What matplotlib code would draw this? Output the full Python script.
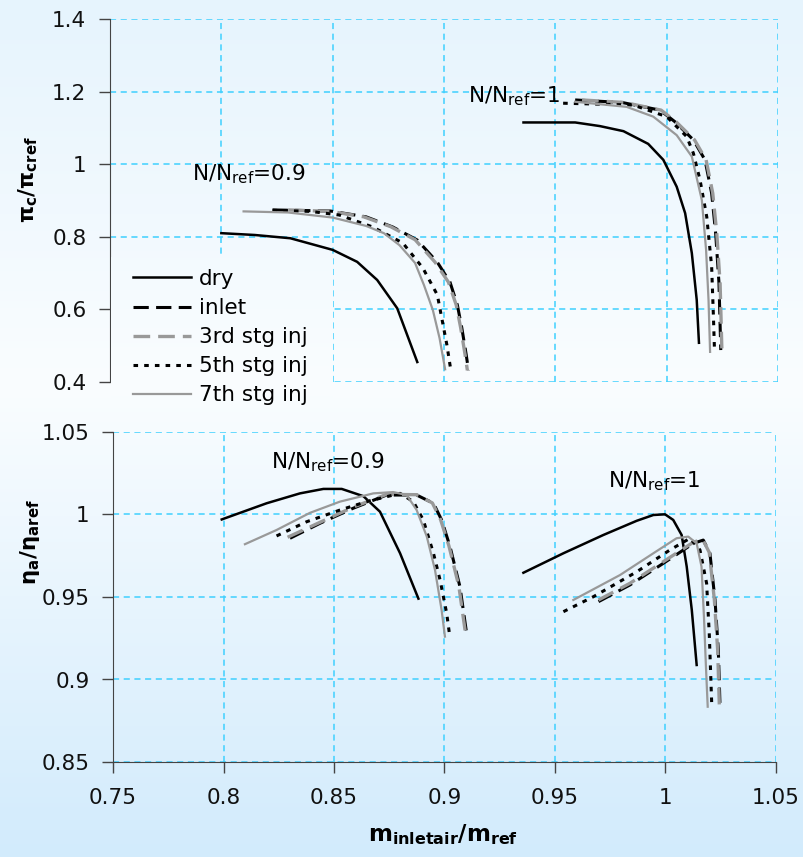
import numpy as np
import matplotlib
matplotlib.use("Agg")
import matplotlib.pyplot as plt
from matplotlib.ticker import FuncFormatter

# ---------------- data ----------------
cases = ["dry", "inlet", "3rd stg inj", "5th stg inj", "7th stg inj"]

# pressure ratio, N/Nref = 0.9
pr09_dry_x = [0.800, 0.815, 0.831, 0.850, 0.861, 0.870, 0.879, 0.888]
pr09_dry_y = [0.810, 0.805, 0.796, 0.764, 0.731, 0.681, 0.603, 0.455]
pr09_inlet_x = [0.823, 0.849, 0.865, 0.877, 0.888, 0.897, 0.9027, 0.906, 0.908, 0.910, 0.911]
pr09_inlet_y = [0.874, 0.871, 0.855, 0.827, 0.791, 0.730, 0.675, 0.612, 0.549, 0.474, 0.432]
pr09_3rd_x = [0.830, 0.849, 0.864, 0.876, 0.887, 0.896, 0.902, 0.9055, 0.9075, 0.9095, 0.9105]
pr09_3rd_y = [0.874, 0.870, 0.855, 0.828, 0.792, 0.730, 0.675, 0.612, 0.549, 0.474, 0.432]
pr09_5th_x = [0.823, 0.840, 0.853, 0.868, 0.8815, 0.8905, 0.897, 0.899, 0.9013, 0.903]
pr09_5th_y = [0.873, 0.870, 0.860, 0.827, 0.783, 0.714, 0.640, 0.576, 0.502, 0.435]
pr09_7th_x = [0.810, 0.830, 0.850, 0.865, 0.873, 0.880, 0.887, 0.891, 0.895, 0.898, 0.9005]
pr09_7th_y = [0.870, 0.867, 0.853, 0.830, 0.810, 0.777, 0.728, 0.667, 0.598, 0.521, 0.435]

# pressure ratio, N/Nref = 1
pr10_dry_x = [0.9357, 0.9589, 0.970, 0.9806, 0.9917, 0.9985, 1.0045, 1.0083, 1.0113, 1.0135, 1.0145]
pr10_dry_y = [1.115, 1.115, 1.105, 1.091, 1.056, 1.012, 0.938, 0.865, 0.755, 0.626, 0.508]
pr10_inlet_x = [0.9589, 0.980, 0.997, 1.0037, 1.012, 1.0172, 1.0202, 1.022, 1.0235, 1.0243]
pr10_inlet_y = [1.177, 1.170, 1.149, 1.117, 1.067, 1.012, 0.920, 0.810, 0.672, 0.488]
pr10_3rd_x = [0.962, 0.981, 0.9975, 1.0042, 1.0125, 1.0177, 1.0207, 1.0225, 1.024, 1.0248]
pr10_3rd_y = [1.177, 1.170, 1.149, 1.117, 1.067, 1.012, 0.920, 0.810, 0.672, 0.488]
pr10_5th_x = [0.9535, 0.985, 1.000, 1.009, 1.012, 1.015, 1.018, 1.0202, 1.021, 1.0215]
pr10_5th_y = [1.168, 1.163, 1.131, 1.076, 1.030, 0.956, 0.855, 0.718, 0.580, 0.483]
pr10_7th_x = [0.9589, 0.982, 0.994, 1.0045, 1.0113, 1.0158, 1.0177, 1.0188, 1.0195]
pr10_7th_y = [1.172, 1.158, 1.131, 1.080, 1.021, 0.901, 0.764, 0.626, 0.483]

# efficiency, N/Nref = 0.9
ef09_dry_x = [0.7992, 0.8195, 0.8346, 0.8452, 0.8535, 0.8633, 0.8708, 0.8799, 0.8882]
ef09_dry_y = [0.997, 1.0068, 1.0128, 1.0155, 1.0155, 1.0111, 1.0017, 0.9765, 0.949]
ef09_inlet_x = [0.8301, 0.8437, 0.8587, 0.8738, 0.8874, 0.895, 0.8987, 0.9025, 0.907, 0.910]
ef09_inlet_y = [0.9856, 0.9947, 1.0038, 1.0118, 1.0118, 1.0068, 0.9967, 0.9805, 0.9562, 0.928]
ef09_3rd_x = [0.829, 0.8437, 0.8587, 0.8738, 0.8874, 0.8945, 0.8982, 0.902, 0.9065, 0.9095]
ef09_3rd_y = [0.9862, 0.9953, 1.0045, 1.0122, 1.012, 1.007, 0.997, 0.981, 0.9565, 0.928]
ef09_5th_x = [0.824, 0.8376, 0.8527, 0.8648, 0.8799, 0.8859, 0.8904, 0.895, 0.898, 0.901, 0.9022]
ef09_5th_y = [0.987, 0.9956, 1.0027, 1.0078, 1.0128, 1.0078, 0.9967, 0.9765, 0.9603, 0.940, 0.928]
ef09_7th_x = [0.8097, 0.824, 0.8391, 0.8527, 0.8678, 0.8768, 0.8829, 0.8874, 0.892, 0.8957, 0.8987, 0.9002]
ef09_7th_y = [0.982, 0.9906, 1.001, 1.0078, 1.0128, 1.0136, 1.0118, 1.0027, 0.9866, 0.9664, 0.942, 0.926]

# efficiency, N/Nref = 1
ef10_dry_x = [0.9357, 0.9538, 0.9719, 0.987, 0.9945, 0.9998, 1.0035, 1.0073, 1.0096, 1.0119, 1.0141]
ef10_dry_y = [0.9647, 0.9765, 0.9876, 0.9962, 0.9997, 1.0001, 0.9967, 0.9876, 0.9684, 0.9421, 0.9088]
ef10_inlet_x = [0.9697, 0.9839, 0.999, 1.0126, 1.0171, 1.0201, 1.0224, 1.0239, 1.0247]
ef10_inlet_y = [0.9472, 0.9573, 0.9704, 0.9825, 0.9845, 0.9765, 0.9482, 0.9179, 0.8826]
ef10_3rd_x = [0.9697, 0.9839, 0.999, 1.0126, 1.0168, 1.0198, 1.0221, 1.0236, 1.0244]
ef10_3rd_y = [0.9482, 0.9583, 0.9714, 0.9832, 0.9850, 0.9770, 0.9485, 0.918, 0.8826]
ef10_5th_x = [0.9538, 0.9674, 0.987, 1.002, 1.0111, 1.0156, 1.0186, 1.0198, 1.0209]
ef10_5th_y = [0.9411, 0.9502, 0.9653, 0.9785, 0.9856, 0.9785, 0.9583, 0.928, 0.8856]
ef10_7th_x = [0.9583, 0.9794, 0.9945, 1.005, 1.0103, 1.0141, 1.0163, 1.0174, 1.0183, 1.0191]
ef10_7th_y = [0.9482, 0.9633, 0.9765, 0.9856, 0.9866, 0.9825, 0.9684, 0.938, 0.9078, 0.8835]

x_ticks = [0.75, 0.8, 0.85, 0.9, 0.95, 1.0, 1.05]
pr_ticks = [0.4, 0.6, 0.8, 1.0, 1.2, 1.4]
ef_ticks = [0.85, 0.9, 0.95, 1.0, 1.05]

# ---------------- styles ----------------
styles = {
    "dry": dict(color="black", lw=1.8, ls="-"),
    "inlet": dict(color="black", lw=2.2, ls=(0, (5, 2.4))),
    "3rd stg inj": dict(color="#999999", lw=2.4, ls=(0, (5, 2.4))),
    "5th stg inj": dict(color="black", lw=2.2, ls=(0, (1.5, 2.0))),
    "7th stg inj": dict(color="#999999", lw=1.6, ls="-"),
}
grid_color = "#3fd0ff"
FS = 15.5
W, H = 804, 857

fig = plt.figure(figsize=(8.04, 8.57), dpi=100)

# background gradient (top -> bottom)
g_stops = [0.0, 0.45, 1.0]
g_r = [230, 250, 210]
g_g = [244, 253, 235]
g_b = [253, 255, 252]


def gradient(t0, t1, n=256):
    t = np.linspace(t0, t1, n)
    rgb = [np.interp(t, g_stops, c) / 255 for c in (g_r, g_g, g_b)]
    return np.stack(rgb, axis=1)[:, None, :]


bg = fig.add_axes([0, 0, 1, 1], zorder=-10)
bg.imshow(gradient(0, 1), aspect="auto", extent=[0, 1, 0, 1])
bg.set_axis_off()

fmt = FuncFormatter(lambda v, p: "%g" % round(v, 4))

ax1 = fig.add_axes([110 / W, 1 - 382 / H, 668 / W, 363 / H])
ax2 = fig.add_axes([113 / W, 1 - 762 / H, 663 / W, 330 / H])

for ax in (ax1, ax2):
    ax.set_facecolor("none")
    ax.set_xlim(0.75, 1.05)
    ax.set_xticks(x_ticks)
    ax.xaxis.set_major_formatter(fmt)
    ax.yaxis.set_major_formatter(fmt)
    ax.grid(True, color=grid_color, ls=(0, (4, 3)), lw=1.1)
    ax.set_axisbelow(True)
    for s in ("top", "right"):
        ax.spines[s].set_visible(False)
    ax.spines["left"].set_color("#444444")
    ax.spines["bottom"].set_color("#444444")
    ax.tick_params(axis="y", direction="out", length=8, width=1, color="#444444",
                   labelsize=FS, pad=9, labelcolor="#111111")

ax1.set_ylim(0.4, 1.4)
ax1.set_yticks(pr_ticks)
ax1.spines["bottom"].set_visible(False)
ax1.tick_params(axis="x", length=0, labelbottom=False)

ax2.set_ylim(0.85, 1.05)
ax2.set_yticks(ef_ticks)
ax2.tick_params(axis="x", direction="out", length=8, width=1, color="#444444",
                labelsize=FS, pad=11, labelcolor="#111111")

top_series = [
    ("dry", pr09_dry_x, pr09_dry_y), ("inlet", pr09_inlet_x, pr09_inlet_y),
    ("3rd stg inj", pr09_3rd_x, pr09_3rd_y), ("5th stg inj", pr09_5th_x, pr09_5th_y),
    ("7th stg inj", pr09_7th_x, pr09_7th_y),
]
top_series2 = [
    ("dry", pr10_dry_x, pr10_dry_y), ("inlet", pr10_inlet_x, pr10_inlet_y),
    ("3rd stg inj", pr10_3rd_x, pr10_3rd_y), ("5th stg inj", pr10_5th_x, pr10_5th_y),
    ("7th stg inj", pr10_7th_x, pr10_7th_y),
]
bot_series = [
    ("dry", ef09_dry_x, ef09_dry_y), ("inlet", ef09_inlet_x, ef09_inlet_y),
    ("3rd stg inj", ef09_3rd_x, ef09_3rd_y), ("5th stg inj", ef09_5th_x, ef09_5th_y),
    ("7th stg inj", ef09_7th_x, ef09_7th_y),
]
bot_series2 = [
    ("dry", ef10_dry_x, ef10_dry_y), ("inlet", ef10_inlet_x, ef10_inlet_y),
    ("3rd stg inj", ef10_3rd_x, ef10_3rd_y), ("5th stg inj", ef10_5th_x, ef10_5th_y),
    ("7th stg inj", ef10_7th_x, ef10_7th_y),
]

handles = []
for name, x, y in top_series:
    h, = ax1.plot(x, y, label=name, **styles[name])
    handles.append(h)
for name, x, y in top_series2:
    ax1.plot(x, y, **styles[name])
for name, x, y in bot_series + bot_series2:
    ax2.plot(x, y, **styles[name])

# legend backdrop (same gradient) hiding the grid, as in the original
ly0, ly1 = 257, 410
lb = fig.add_axes([111 / W, 1 - ly1 / H, (333 - 111) / W, (ly1 - ly0) / H], zorder=1)
lb.imshow(gradient(ly0 / H, ly1 / H, 64), aspect="auto", extent=[0, 1, 0, 1])
lb.set_axis_off()

leg = fig.legend(handles=handles, labels=cases, loc="upper left",
                 bbox_to_anchor=(133 / W, 1 - 269 / H), bbox_transform=fig.transFigure,
                 fontsize=FS, frameon=False, handlelength=2.7, handletextpad=0.35,
                 labelspacing=0.42, borderpad=0, borderaxespad=0)
leg.set_zorder(5)

# annotations
ax1.text(0.7868, 0.956, "N/N$_{\\mathrm{ref}}$=0.9", fontsize=FS, va="baseline", ha="left")
ax1.text(0.9107, 1.171, "N/N$_{\\mathrm{ref}}$=1", fontsize=FS, va="baseline", ha="left")
ax2.text(0.8215, 1.0282, "N/N$_{\\mathrm{ref}}$=0.9", fontsize=FS, va="baseline", ha="left")
ax2.text(0.974, 1.0167, "N/N$_{\\mathrm{ref}}$=1", fontsize=FS, va="baseline", ha="left")

# axis labels
fig.text(28 / W, 1 - 180 / H, "π$_{\\mathbf{c}}$/π$_{\\mathbf{cref}}$", rotation=90,
         ha="center", va="center", fontsize=15.5, fontweight="bold")
fig.text(30 / W, 1 - 542 / H, "η$_{\\mathbf{a}}$/η$_{\\mathbf{aref}}$", rotation=90,
         ha="center", va="center", fontsize=15.5, fontweight="bold")
fig.text(443 / W, 1 - 835 / H, "m$_{\\mathbf{inletair}}$/m$_{\\mathbf{ref}}$",
         ha="center", va="center", fontsize=16.5, fontweight="bold")

fig.savefig("out.png", dpi=100)
